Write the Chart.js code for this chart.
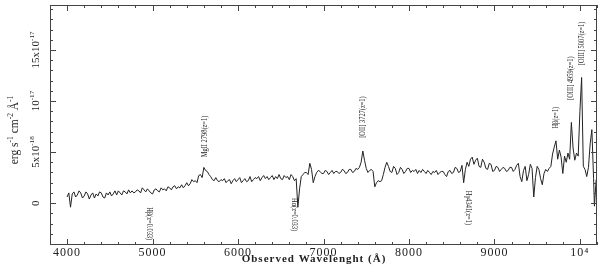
<!DOCTYPE html>
<html>
<head>
<meta charset="utf-8">
<script src="https://cdn.jsdelivr.net/npm/chart.js@4"></script>
<style>
  html, body { margin: 0; padding: 0; background: #fff; }
  canvas { display: block; }
</style>
</head>
<body>
<canvas id="specChart" width="600" height="268"></canvas>
<script>
// observed wavelength (Angstrom)
const wavelength = [
  4000, 4020, 4040, 4060, 4080, 4100, 4120, 4140, 4160, 4180, 4200, 4220, 4240, 4260, 4280, 4300, 4320, 4340, 4360, 4380,
  4400, 4420, 4440, 4460, 4480, 4500, 4520, 4540, 4560, 4580, 4600, 4620, 4640, 4660, 4680, 4700, 4720, 4740, 4760, 4780,
  4800, 4820, 4840, 4860, 4880, 4900, 4920, 4940, 4960, 4980, 5000, 5020, 5040, 5060, 5080, 5100, 5120, 5140, 5160, 5180,
  5200, 5220, 5240, 5260, 5280, 5300, 5320, 5340, 5360, 5380, 5400, 5420, 5440, 5460, 5480, 5500, 5520, 5540, 5560, 5580,
  5600, 5620, 5640, 5660, 5680, 5700, 5720, 5740, 5760, 5780, 5800, 5820, 5840, 5860, 5880, 5900, 5920, 5940, 5960, 5980,
  6000, 6020, 6040, 6060, 6080, 6100, 6120, 6140, 6160, 6180, 6200, 6220, 6240, 6260, 6280, 6300, 6320, 6340, 6360, 6380,
  6400, 6420, 6440, 6460, 6480, 6500, 6520, 6540, 6560, 6580, 6600, 6620, 6640, 6660, 6680, 6700, 6720, 6740, 6760, 6780,
  6800, 6820, 6840, 6860, 6880, 6900, 6920, 6940, 6960, 6980, 7000, 7020, 7040, 7060, 7080, 7100, 7120, 7140, 7160, 7180,
  7200, 7220, 7240, 7260, 7280, 7300, 7320, 7340, 7360, 7380, 7400, 7420, 7440, 7460, 7480, 7500, 7520, 7540, 7560, 7580,
  7600, 7620, 7640, 7660, 7680, 7700, 7720, 7740, 7760, 7780, 7800, 7820, 7840, 7860, 7880, 7900, 7920, 7940, 7960, 7980,
  8000, 8020, 8040, 8060, 8080, 8100, 8120, 8140, 8160, 8180, 8200, 8220, 8240, 8260, 8280, 8300, 8320, 8340, 8360, 8380,
  8400, 8420, 8440, 8460, 8480, 8500, 8520, 8540, 8560, 8580, 8600, 8620, 8640, 8660, 8680, 8700, 8720, 8740, 8760, 8780,
  8800, 8820, 8840, 8860, 8880, 8900, 8920, 8940, 8960, 8980, 9000, 9020, 9040, 9060, 9080, 9100, 9120, 9140, 9160, 9180,
  9200, 9220, 9240, 9260, 9280, 9300, 9320, 9340, 9360, 9380, 9400, 9420,
  9440, 9460, 9480, 9500, 9520, 9540, 9560, 9580, 9600, 9620, 9640, 9660, 9680, 9700, 9720, 9740, 9760, 9780, 9800, 9820,
  9840, 9860, 9880, 9900, 9920, 9940, 9960, 9980, 10000, 10020, 10040, 10060, 10080, 10100, 10120, 10140, 10160, 10170, 10190
];
// flux in units of 1e-18 erg s-1 cm-2 A-1
const flux = [
  0.6, 1.0, -0.4, 0.9, 1.1, 0.6, 0.8, 1.2, 1.0, 0.5, 0.7, 1.1, 0.9, 0.4, 0.8, 1.0, 0.5, 0.9, 0.7, 1.1,
  1.0, 0.6, 0.5, 1.0, 0.8, 1.1, 0.7, 0.9, 1.2, 0.8, 1.2, 1.0, 0.8, 1.2, 1.1, 0.9, 1.3, 1.0, 1.2, 1.0,
  1.1, 1.3, 1.2, 1.0, 1.5, 1.3, 1.1, 1.4, 1.2, 1.0, 0.9, 1.3, 1.4, 1.2, 1.1, 1.5, 1.3, 1.4, 1.2, 1.6,
  1.5, 1.3, 1.6, 1.7, 1.4, 1.6, 1.5, 1.8, 1.5, 1.7, 2.0, 1.7, 1.9, 2.3, 2.1, 2.2, 2.0, 2.7, 2.8, 2.5,
  3.5, 3.2, 3.1, 2.8, 2.6, 2.3, 2.2, 2.5, 2.2, 2.1, 2.3, 2.2, 2.4, 2.0, 2.2, 2.3, 1.9, 2.2, 2.4, 2.1,
  2.3, 2.5, 2.0, 2.2, 2.4, 2.1, 2.2, 2.6, 2.1, 2.3, 2.5, 2.4, 2.6, 2.2, 2.5, 2.7, 2.4, 2.6, 2.3, 2.5,
  2.7, 2.3, 2.6, 2.4, 2.8, 2.4, 2.3, 2.7, 2.5, 2.6, 2.3, 2.8, 2.6, 2.2, 2.4, -0.4, 1.4, 2.6, 2.8, 3.0,
  3.0, 2.8, 3.9, 3.3, 2.0, 2.6, 3.0, 3.2, 3.1, 2.9, 2.9, 3.2, 3.1, 2.8, 3.0, 3.2, 2.9, 3.1, 3.1, 2.9,
  3.0, 3.3, 3.2, 2.9, 3.0, 3.3, 3.3, 3.0, 3.1, 3.4, 3.3, 3.5, 4.0, 5.1, 4.2, 3.4, 3.0, 3.2, 3.3, 3.1,
  1.6, 2.0, 2.2, 2.1, 2.2, 2.8, 3.5, 4.0, 3.6, 3.1, 3.0, 3.6, 3.4, 2.8, 3.0, 3.5, 3.3, 2.9, 3.1, 3.4,
  3.4, 3.0, 3.2, 3.1, 3.3, 2.9, 3.2, 3.0, 3.3, 3.1, 2.9, 3.2, 3.0, 2.8, 3.1, 3.0, 3.2, 2.8, 3.0, 3.1,
  3.1, 2.8, 2.6, 3.1, 3.2, 2.9, 3.0, 3.5, 3.4, 3.0, 3.1, 3.7, 2.0, 3.3, 4.0, 3.6, 4.3, 4.5, 3.8, 4.2,
  4.4, 3.6, 3.5, 4.3, 4.0, 3.4, 3.3, 3.9, 3.8, 3.1, 3.2, 3.6, 3.5, 3.1, 3.3, 3.5, 3.4, 3.1, 3.2, 3.5,
  3.5, 3.1, 3.3, 3.7, 3.9, 2.6, 2.1, 3.2, 3.6, 2.2, 2.8, 3.8,
  3.4, 0.6, 2.5, 3.6, 3.3, 2.4, 1.8, 2.9, 3.3, 3.1, 3.4, 3.6, 4.8, 5.5, 6.1, 4.3, 5.2, 4.5, 2.9, 4.6,
  4.0, 4.9, 4.3, 7.9, 5.4, 4.2, 4.9, 4.6, 9.0, 12.3, 3.6, 3.3, 2.6, 3.5, 5.8, 7.2, 2.4, -0.3, 2.3
];

const xTicks = [4000, 5000, 6000, 7000, 8000, 9000, 10000];
const yTicks = [0, 5, 10, 15];
const yTickText = [[['0']], [['5x10'], ['-18', 1]], [['10'], ['-17', 1]], [['15x10'], ['-17', 1]]];

// line identifications
const lineLabels = ['H\u03b2(z=0.033)', 'H\u03b1(z=0.033)', 'H\u03b34341(z=1)', 'MgII 2798(z=1)',
  '[OII] 3727(z=1)', 'H\u03b2(z=1)', '[OIII] 4959(z=1)', '[OIII] 5007(z=1)'];
const lineWave = [4955, 6655, 8690, 5615, 7465, 9720, 9895, 10025];
const lineFlux = [-0.4, 0.5, 1.2, 4.5, 6.4, 7.3, 10.1, 13.5];
const lineSide = ['below', 'below', 'below', 'above', 'above', 'above', 'above', 'above'];

const FONT = 'Liberation Serif';

function drawRich(ctx, parts, size, cx, cy, angle) {
  let w = 0;
  parts.forEach(p => {
    ctx.font = (p[1] ? size * 0.65 : size) + 'px ' + FONT;
    w += ctx.measureText(p[0]).width;
  });
  ctx.save();
  ctx.translate(cx, cy);
  ctx.rotate(angle);
  ctx.textAlign = 'left';
  ctx.textBaseline = 'middle';
  let xx = -w / 2;
  parts.forEach(p => {
    ctx.font = (p[1] ? size * 0.65 : size) + 'px ' + FONT;
    ctx.fillText(p[0], xx, p[1] ? -size * 0.38 : 0);
    xx += ctx.measureText(p[0]).width;
  });
  ctx.restore();
}

const framePlugin = {
  id: 'framePlugin',
  beforeDraw(chart) {
    chart.ctx.letterSpacing = '1px';
  },
  afterDraw(chart) {
    const { ctx, chartArea: a, scales: { x, y } } = chart;
    ctx.save();
    ctx.strokeStyle = '#444';
    ctx.fillStyle = '#222';
    ctx.lineWidth = 1;

    // x axis title
    ctx.font = 'bold 11px ' + FONT;
    ctx.textAlign = 'center';
    ctx.textBaseline = 'middle';
    ctx.fillText('Observed Wavelenght (\u00c5)', 314, 259);
    ctx.letterSpacing = '0px';

    ctx.strokeRect(a.left + 0.5, a.top + 0.5, a.right - a.left - 1, a.bottom - a.top - 1);

    ctx.beginPath();
    for (let v = 3800; v <= 10200; v += 200) {
      const px = Math.round(x.getPixelForValue(v)) + 0.5;
      const len = v % 1000 === 0 ? 6 : 3;
      ctx.moveTo(px, a.bottom); ctx.lineTo(px, a.bottom - len);
      ctx.moveTo(px, a.top); ctx.lineTo(px, a.top + len);
    }
    for (let v = -4; v <= 19; v += 1) {
      const py = Math.round(y.getPixelForValue(v)) + 0.5;
      const len = v % 5 === 0 ? 6 : 3;
      ctx.moveTo(a.left, py); ctx.lineTo(a.left + len, py);
      ctx.moveTo(a.right, py); ctx.lineTo(a.right - len, py);
    }
    ctx.stroke();

    // y tick labels, rotated
    yTicks.forEach((v, i) => {
      drawRich(ctx, yTickText[i], 11, 36, y.getPixelForValue(v), -Math.PI / 2);
    });
    // y axis title
    drawRich(ctx, [['erg s'], ['-1', 1], [' cm'], ['-2', 1], [' \u00c5'], ['-1', 1]], 11.5, 15, 130, -Math.PI / 2);

    // line labels
    ctx.font = '8px ' + FONT;
    ctx.textBaseline = 'middle';
    lineLabels.forEach((t, i) => {
      const px = x.getPixelForValue(lineWave[i]);
      const py = y.getPixelForValue(lineFlux[i]);
      ctx.save();
      ctx.translate(px, py);
      ctx.rotate(lineSide[i] === 'above' ? -Math.PI / 2 : Math.PI / 2);
      ctx.scale(0.8, 1);
      ctx.textAlign = 'left';
      ctx.fillText(t, 0, 0);
      ctx.restore();
    });
    ctx.restore();
  }
};

new Chart(document.getElementById('specChart'), {
  type: 'line',
  data: {
    datasets: [{
      data: wavelength.map((w, i) => ({ x: w, y: flux[i] })),
      borderColor: '#222',
      borderWidth: 1,
      pointRadius: 0,
      tension: 0,
      fill: false
    }]
  },
  options: {
    responsive: false,
    animation: false,
    layout: { padding: { top: 5, right: 3, left: 0, bottom: 0 } },
    plugins: { legend: { display: false }, tooltip: { enabled: false } },
    scales: {
      x: {
        type: 'linear',
        min: 3800,
        max: 10200,
        afterBuildTicks: s => { s.ticks = xTicks.map(v => ({ value: v })); },
        afterFit: s => { s.height = 23; },
        grid: { display: false, drawTicks: false },
        border: { display: false },
        ticks: {
          padding: 1,
          color: '#222',
          maxRotation: 0,
          autoSkip: false,
          font: { family: FONT, size: 12 },
          callback: v => v === 10000 ? '10\u2074' : String(v)
        },
        title: { display: false }
      },
      y: {
        min: -4.1,
        max: 19.4,
        afterFit: s => { s.width = 50; },
        grid: { display: false, drawTicks: false },
        border: { display: false },
        ticks: { display: false }
      }
    }
  },
  plugins: [framePlugin]
});
</script>
</body>
</html>
